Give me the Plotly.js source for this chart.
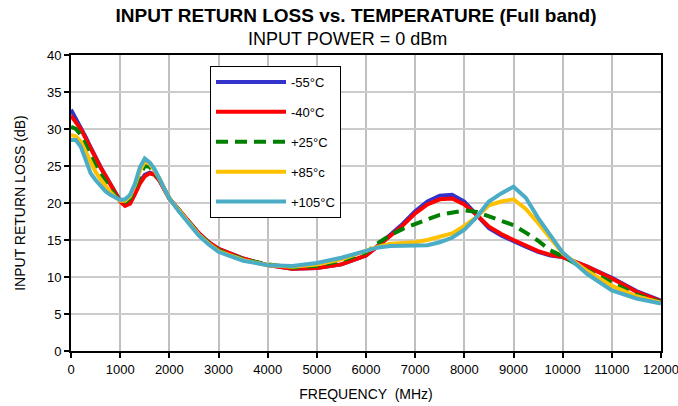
<!DOCTYPE html>
<html>
<head>
<meta charset="utf-8">
<script src="https://cdn.plot.ly/plotly-3.0.1.min.js"></script>
<style>html,body{margin:0;padding:0;background:#fff;}#chart{width:678px;height:406px;}</style>
</head>
<body>
<div id="chart"></div>
<script>
const freq = [0,100,200,300,400,500,600,700,800,900,1000,1100,1200,1300,1400,1500,1600,1700,1800,2000,2200,2400,2600,2800,3000,3500,4000,4500,5000,5500,6000,6250,6500,6750,7000,7250,7500,7750,8000,8250,8500,8750,9000,9250,9500,9750,10000,10500,11000,11500,12000];

const m55 = [32.6,31.4,30.2,28.9,27.5,26.1,24.9,23.7,22.6,21.4,20.3,19.8,20.0,21.3,22.8,23.8,24.1,23.9,23.1,20.6,19.0,17.4,15.9,14.7,13.8,12.5,11.6,11.1,11.2,11.7,12.9,14.3,15.7,17.2,18.9,20.2,21.0,21.1,20.2,18.4,16.6,15.6,14.8,14.1,13.4,12.9,12.7,11.4,9.9,8.1,6.8];
const m40 = [31.8,31.0,30.0,28.7,27.4,26.0,24.8,23.7,22.6,21.4,20.2,19.6,19.9,21.2,22.6,23.6,24.0,23.8,23.0,20.6,19.0,17.4,15.9,14.7,13.8,12.5,11.6,11.1,11.2,11.7,12.9,14.2,15.6,17.0,18.6,19.8,20.5,20.6,19.8,18.4,16.8,15.8,15.0,14.3,13.5,13.0,12.7,11.4,9.8,8.0,6.7];
const p25 = [30.3,30.0,29.2,27.8,26.3,25.0,23.9,22.9,22.0,21.0,20.3,20.1,20.6,22.0,23.8,25.0,24.9,24.0,23.2,20.6,19.0,17.3,15.8,14.6,13.6,12.4,11.7,11.3,11.5,12.2,13.3,14.6,15.7,16.5,17.2,17.8,18.4,18.7,19.0,18.8,18.2,17.6,17.0,16.0,14.9,13.6,12.8,10.9,9.3,7.6,6.6];
const p85 = [29.2,29.0,28.3,26.9,25.3,24.2,23.2,22.3,21.5,20.8,20.3,20.3,20.9,22.4,24.3,25.6,25.3,24.4,23.3,20.6,18.9,17.2,15.7,14.5,13.5,12.3,11.6,11.4,11.7,12.4,13.5,14.1,14.5,14.6,14.7,15.0,15.4,15.9,16.9,18.1,19.7,20.2,20.5,19.2,17.3,15.2,13.2,10.8,8.8,7.4,6.5];
const p105 = [28.5,28.5,27.6,25.8,24.0,23.1,22.3,21.6,21.1,20.7,20.4,20.5,21.1,22.6,24.8,26.0,25.5,24.6,23.3,20.6,18.8,17.1,15.6,14.4,13.4,12.2,11.6,11.5,11.9,12.6,13.5,14.0,14.2,14.2,14.2,14.3,14.7,15.3,16.4,18.1,20.2,21.3,22.2,20.7,18.0,15.6,13.3,10.4,8.2,7.1,6.4];

const seriesNames = ['-55°C','-40°C','+25°C','+85°c','+105°C'];
const seriesValues = [m55, m40, p25, p85, p105];
const seriesColors = ['#3333cc','#ff0000','#008000','#ffc000','#4bacc6'];
const seriesDash = ['solid','solid','12px,7px','solid','solid'];

const xTicks = [0,1000,2000,3000,4000,5000,6000,7000,8000,9000,10000,11000,12000];
const yTicks = [0,5,10,15,20,25,30,35,40];

const traces = seriesNames.map((n,i) => ({
  x: freq, y: seriesValues[i], type: 'scatter', mode: 'lines', name: n,
  legendgroup: 'g'+i,
  line: {color: seriesColors[i], width: 4, dash: seriesDash[i]}
}));

const FONT = 'Liberation Sans, Arial, sans-serif';
const layout = {
  width: 678, height: 406,
  margin: {l: 71, r: 17, t: 55, b: 55},
  paper_bgcolor: '#fff', plot_bgcolor: '#fff',
  font: {family: FONT, color: '#000', size: 13},
  title: {text: '<b>INPUT RETURN LOSS vs. TEMPERATURE (Full band)</b>', font: {family: FONT, size: 19, color: '#000'},
          x: 356/678, xanchor: 'center', xref: 'container', y: 1 - 9/406, yanchor: 'top', yref: 'container'},
  annotations: [{text: 'INPUT POWER = 0 dBm', xref: 'paper', yref: 'paper', x: (347-71)/590, y: 1 + (55-39)/296,
                 xanchor: 'center', yanchor: 'middle', showarrow: false, font: {family: FONT, size: 18, color: '#000'}}],
  showlegend: true,
  legend: {x: (210-71)/590, y: (351-66)/296, xanchor: 'left', yanchor: 'top', bgcolor: '#fff', bordercolor: '#000', borderwidth: 1,
           font: {family: FONT, size: 13, color: '#000'}, tracegroupgap: 10, itemwidth: 70, traceorder: 'grouped'},
  xaxis: {range: [0, 12000], tickvals: xTicks, ticktext: xTicks.map(String), ticks: 'outside', ticklen: 5, tickwidth: 2, tickcolor: '#000',
          ticklabeloverflow: 'allow',
          showline: true, linecolor: '#000', linewidth: 2, mirror: true, showgrid: true, gridcolor: '#c0c0c0', gridwidth: 2, zeroline: false,
          tickfont: {family: FONT, size: 13, color: '#000'},
          title: {text: 'FREQUENCY  (MHz)', font: {family: FONT, size: 14, color: '#000'}, standoff: 14}},
  yaxis: {range: [0, 40], tickvals: yTicks, ticktext: yTicks.map(String), ticks: 'outside', ticklen: 5, tickwidth: 2, tickcolor: '#000',
          showline: true, linecolor: '#000', linewidth: 2, mirror: true, showgrid: true, gridcolor: '#cccccc', gridwidth: 1.5, zeroline: false,
          tickfont: {family: FONT, size: 13, color: '#000'},
          title: {text: 'INPUT RETURN LOSS (dB)', font: {family: FONT, size: 14, color: '#000'}, standoff: 18}}
};

Plotly.newPlot('chart', traces, layout, {displayModeBar: false, staticPlot: true});
</script>
</body>
</html>
